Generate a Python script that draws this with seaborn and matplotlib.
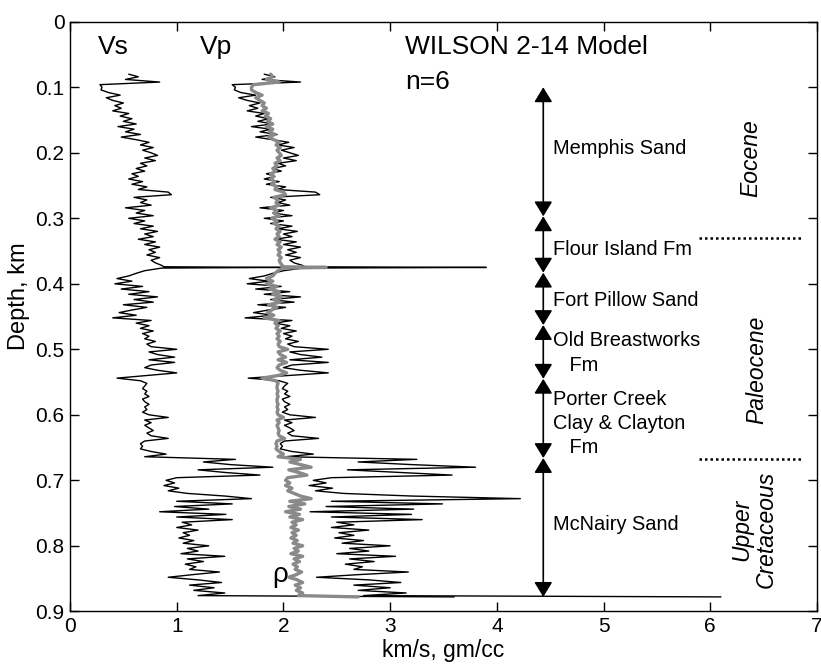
import numpy as np
import pandas as pd
import matplotlib
matplotlib.use("Agg")
import matplotlib.pyplot as plt
import seaborn as sns

# Well-log model: depth samples (km) with shear velocity, compressional velocity and density
depth_km = [
    0.080, 0.084, 0.088, 0.092, 0.096, 0.100, 0.104, 0.108, 0.112, 0.116,
    0.120, 0.124, 0.128, 0.132, 0.136, 0.140, 0.144, 0.148, 0.152, 0.156,
    0.160, 0.164, 0.168, 0.172, 0.176, 0.180, 0.184, 0.188, 0.192, 0.196,
    0.200, 0.204, 0.208, 0.212, 0.216, 0.220, 0.224, 0.228, 0.232, 0.236,
    0.240, 0.244, 0.248, 0.252, 0.256, 0.260, 0.264, 0.268, 0.272, 0.276,
    0.280, 0.284, 0.288, 0.292, 0.296, 0.300, 0.304, 0.308, 0.312, 0.316,
    0.320, 0.324, 0.328, 0.332, 0.336, 0.340, 0.344, 0.348, 0.352, 0.356,
    0.360, 0.364, 0.368, 0.372, 0.374, 0.375, 0.376, 0.380, 0.384, 0.388,
    0.392, 0.396, 0.400, 0.404, 0.408, 0.412, 0.416, 0.420, 0.424, 0.428,
    0.432, 0.436, 0.440, 0.444, 0.448, 0.452, 0.456, 0.460, 0.464, 0.468,
    0.472, 0.476, 0.480, 0.484, 0.488, 0.492, 0.496, 0.500, 0.504, 0.508,
    0.512, 0.516, 0.520, 0.524, 0.528, 0.532, 0.536, 0.540, 0.544, 0.548,
    0.552, 0.556, 0.560, 0.564, 0.568, 0.572, 0.576, 0.580, 0.584, 0.588,
    0.592, 0.596, 0.600, 0.604, 0.608, 0.612, 0.616, 0.620, 0.624, 0.628,
    0.632, 0.636, 0.640, 0.644, 0.648, 0.652, 0.656, 0.660, 0.664, 0.668,
    0.672, 0.676, 0.680, 0.684, 0.688, 0.692, 0.696, 0.700, 0.704, 0.708,
    0.712, 0.716, 0.720, 0.724, 0.728, 0.732, 0.736, 0.740, 0.744, 0.748,
    0.752, 0.756, 0.760, 0.764, 0.768, 0.772, 0.776, 0.780, 0.784, 0.788,
    0.792, 0.796, 0.800, 0.804, 0.808, 0.812, 0.816, 0.820, 0.824, 0.828,
    0.832, 0.836, 0.840, 0.844, 0.848, 0.852, 0.856, 0.860, 0.864, 0.868,
    0.872, 0.876, 0.878,
]

vs_kms = [
    0.55, 0.64, 0.52, 0.84, 0.28, 0.30, 0.29, 0.36, 0.47, 0.34,
    0.40, 0.50, 0.42, 0.48, 0.40, 0.55, 0.47, 0.58, 0.50, 0.62,
    0.45, 0.60, 0.52, 0.66, 0.48, 0.62, 0.74, 0.66, 0.78, 0.68,
    0.76, 0.82, 0.70, 0.80, 0.66, 0.72, 0.62, 0.70, 0.58, 0.64,
    0.55, 0.68, 0.58, 0.72, 0.64, 0.92, 0.95, 0.60, 0.72, 0.66,
    0.76, 0.52, 0.70, 0.62, 0.78, 0.55, 0.70, 0.60, 0.78, 0.66,
    0.82, 0.70, 0.78, 0.64, 0.80, 0.70, 0.84, 0.74, 0.80, 0.72,
    0.84, 0.76, 0.80, 0.86, 0.88, 2.00, 0.86, 0.70, 0.62, 0.55,
    0.44, 0.58, 0.42, 0.68, 0.48, 0.74, 0.55, 0.82, 0.60, 0.78,
    0.50, 0.72, 0.58, 0.46, 0.62, 0.40, 0.76, 0.62, 0.74, 0.66,
    0.78, 0.68, 0.74, 0.70, 0.80, 0.72, 0.76, 1.00, 0.74, 0.82,
    0.98, 0.74, 0.98, 0.76, 0.70, 0.82, 1.00, 0.72, 0.44, 0.66,
    0.72, 0.70, 0.68, 0.72, 0.70, 0.74, 0.68, 0.70, 0.74, 0.70,
    0.72, 0.68, 0.74, 0.92, 0.70, 0.76, 0.70, 0.74, 0.78, 0.72,
    0.76, 0.92, 0.70, 0.66, 0.68, 0.66, 0.76, 0.90, 0.70, 1.55,
    1.25, 1.50, 1.90, 1.20, 1.45, 1.78, 1.00, 0.90, 0.98, 0.88,
    1.02, 0.92, 1.10, 1.45, 1.70, 1.00, 1.52, 0.98, 1.30, 0.84,
    1.46, 1.00, 1.52, 1.05, 1.14, 1.00, 1.20, 1.06, 1.12, 1.02,
    1.16, 1.06, 1.30, 1.10, 1.20, 1.04, 1.45, 1.10, 1.25, 1.08,
    1.18, 1.12, 1.40, 1.15, 0.92, 1.20, 1.42, 1.12, 1.35, 1.16,
    1.45, 1.20, 3.60,
]

vp_kms = [
    1.82, 1.92, 1.80, 2.16, 1.52, 1.55, 1.54, 1.60, 1.74, 1.58,
    1.66, 1.78, 1.68, 1.76, 1.66, 1.82, 1.74, 1.86, 1.76, 1.90,
    1.70, 1.88, 1.78, 1.94, 1.74, 1.90, 2.05, 1.95, 2.10, 1.98,
    2.06, 2.14, 2.00, 2.12, 1.95, 2.02, 1.90, 1.98, 1.84, 1.92,
    1.82, 1.96, 1.84, 2.02, 1.94, 2.30, 2.34, 1.88, 2.02, 1.95,
    2.06, 1.78, 2.00, 1.90, 2.08, 1.82, 2.00, 1.88, 2.08, 1.95,
    2.13, 2.00, 2.08, 1.92, 2.12, 2.00, 2.16, 2.04, 2.12, 2.02,
    2.16, 2.06, 2.10, 2.18, 2.20, 3.90, 2.18, 2.00, 1.90, 1.82,
    1.68, 1.86, 1.66, 1.98, 1.74, 2.06, 1.82, 2.16, 1.88, 2.10,
    1.76, 2.02, 1.86, 1.72, 1.90, 1.64, 2.08, 1.92, 2.06, 1.98,
    2.12, 2.00, 2.08, 2.02, 2.14, 2.04, 2.10, 2.42, 2.06, 2.16,
    2.36, 2.06, 2.42, 2.08, 2.00, 2.16, 2.42, 2.04, 1.67, 1.96,
    2.04, 2.01, 1.99, 2.04, 2.01, 2.06, 1.99, 2.01, 2.06, 2.01,
    2.04, 1.99, 2.06, 2.30, 2.01, 2.08, 2.01, 2.06, 2.10, 2.04,
    2.08, 2.33, 2.01, 1.97, 1.99, 1.97, 2.08, 2.28, 2.02, 3.25,
    2.70, 3.20, 3.80, 2.60, 3.10, 3.58, 2.45, 2.28, 2.40, 2.24,
    2.46, 2.30, 2.56, 3.20, 4.22, 2.45, 3.49, 2.40, 3.22, 2.25,
    3.20, 2.45, 3.30, 2.50, 2.66, 2.45, 2.80, 2.52, 2.66, 2.48,
    2.75, 2.55, 3.00, 2.62, 2.80, 2.50, 3.05, 2.62, 2.85, 2.58,
    2.74, 2.66, 3.17, 2.70, 2.31, 2.80, 3.10, 2.66, 3.00, 2.70,
    3.15, 2.75, 6.10,
]

rho_gcc = [
    1.88, 1.90, 1.84, 1.96, 1.72, 1.70, 1.70, 1.74, 1.80, 1.74,
    1.78, 1.82, 1.80, 1.84, 1.80, 1.86, 1.83, 1.88, 1.85, 1.90,
    1.84, 1.90, 1.87, 1.92, 1.86, 1.91, 1.96, 1.93, 1.97, 1.94,
    1.96, 1.98, 1.94, 1.97, 1.92, 1.94, 1.90, 1.93, 1.88, 1.91,
    1.88, 1.92, 1.89, 1.94, 1.92, 2.00, 2.02, 1.91, 1.95, 1.93,
    1.96, 1.88, 1.94, 1.91, 1.96, 1.89, 1.94, 1.91, 1.96, 1.93,
    1.97, 1.94, 1.96, 1.92, 1.97, 1.94, 1.98, 1.95, 1.97, 1.95,
    1.98, 1.96, 1.97, 1.99, 2.00, 2.40, 1.99, 1.95, 1.92, 1.90,
    1.84, 1.90, 1.84, 1.94, 1.87, 1.96, 1.90, 1.98, 1.91, 1.97,
    1.86, 1.94, 1.89, 1.85, 1.91, 1.82, 1.96, 1.92, 1.95, 1.93,
    1.97, 1.94, 1.96, 1.94, 1.97, 1.95, 1.96, 2.04, 1.95, 1.97,
    2.02, 1.95, 2.03, 1.96, 1.94, 1.97, 2.03, 1.95, 1.80, 1.93,
    1.95, 1.94, 1.94, 1.95, 1.94, 1.95, 1.94, 1.94, 1.95, 1.94,
    1.95, 1.94, 1.95, 2.00, 1.94, 1.96, 1.94, 1.95, 1.96, 1.95,
    1.96, 2.01, 1.94, 1.93, 1.94, 1.93, 1.96, 2.00, 1.95, 2.16,
    2.06, 2.16, 2.26, 2.05, 2.14, 2.22, 2.04, 2.02, 2.06, 2.02,
    2.08, 2.04, 2.10, 2.16, 2.26, 2.06, 2.20, 2.05, 2.16, 2.02,
    2.15, 2.06, 2.18, 2.08, 2.12, 2.07, 2.14, 2.08, 2.12, 2.07,
    2.13, 2.09, 2.18, 2.10, 2.14, 2.07, 2.18, 2.10, 2.15, 2.09,
    2.13, 2.11, 2.17, 2.12, 2.05, 2.13, 2.18, 2.11, 2.16, 2.12,
    2.18, 2.14, 2.70,
]

# Formation boundaries (km) and names
unit_bounds = [0.100, 0.297, 0.383, 0.463, 0.545, 0.666, 0.878]
unit_names = [
    ["Memphis Sand"],
    ["Flour Island Fm"],
    ["Fort Pillow Sand"],
    ["Old Breastworks", "   Fm"],
    ["Porter Creek", "Clay & Clayton", "   Fm"],
    ["McNairy Sand"],
]
unit_label_depth = [0.193, 0.347, 0.426, 0.487, 0.576, 0.768]

# Epoch boundaries and labels
epoch_bounds = [0.330, 0.668]
epoch_names = ["Eocene", "Paleocene", "Upper\nCretaceous"]
epoch_label_depth = [0.208, 0.532, 0.775]

x_ticks = [0, 1, 2, 3, 4, 5, 6, 7]
y_ticks = [0, 0.1, 0.2, 0.3, 0.4, 0.5, 0.6, 0.7, 0.8, 0.9]
y_tick_labels = ["0", "0.1", "0.2", "0.3", "0.4", "0.5", "0.6", "0.7", "0.8", "0.9"]

sns.set_theme(style="ticks")
plt.rcParams["font.family"] = ["Liberation Sans", "DejaVu Sans"]
plt.rcParams["text.color"] = "black"
plt.rcParams["axes.labelcolor"] = "black"

fig = plt.figure(figsize=(8.21, 6.66), dpi=100)
ax = fig.add_axes([0.0853, 0.0821, 0.9098, 0.8852])

logs = pd.DataFrame({"depth": depth_km, "Vs": vs_kms, "Vp": vp_kms, "rho": rho_gcc})

sns.lineplot(data=logs, x="Vs", y="depth", sort=False, estimator=None, orient="y",
             color="black", lw=1.0, ax=ax, zorder=3)
sns.lineplot(data=logs, x="Vp", y="depth", sort=False, estimator=None, orient="y",
             color="black", lw=1.0, ax=ax, zorder=3)
sns.lineplot(data=logs, x="rho", y="depth", sort=False, estimator=None, orient="y",
             color="#8a8a8a", lw=2.4, ax=ax, zorder=4)

ax.set_xlim(0, 7)
ax.set_ylim(0.9, 0)
ax.set_xticks(x_ticks)
ax.set_xticklabels([str(t) for t in x_ticks])
ax.set_yticks(y_ticks)
ax.set_yticklabels(y_tick_labels)
ax.tick_params(direction="in", length=6.5, width=1.0, top=True, right=True,
               labelsize=15, colors="black", labelcolor="black", pad=4)
for s in ax.spines.values():
    s.set_linewidth(1.0)
    s.set_color("black")
ax.set_xlabel("km/s, gm/cc", fontsize=16.5, labelpad=2, color="black")
ax.set_ylabel("Depth, km", fontsize=17, color="black")
ax.yaxis.set_label_coords(-0.053, 0.535)

# Curve and model labels
ax.text(0.26, 0.038, "Vs", fontsize=19, va="center", ha="left", color="black")
ax.text(1.22, 0.038, "Vp", fontsize=19, va="center", ha="left", color="black")
ax.text(3.14, 0.038, "WILSON 2-14 Model", fontsize=19, va="center", ha="left", color="black")
ax.text(3.14, 0.092, "n=6", fontsize=19, va="center", ha="left", color="black")
ax.text(1.97, 0.845, "ρ", fontsize=20, va="center", ha="center", color="black")

# Formation extent arrows
arrow_x = 4.435
for top, bot in zip(unit_bounds[:-1], unit_bounds[1:]):
    ax.annotate("", xy=(arrow_x, top), xytext=(arrow_x, bot),
                arrowprops=dict(arrowstyle="<|-|>,head_length=0.9,head_width=0.55",
                                mutation_scale=10, color="black", lw=1.2,
                                shrinkA=0, shrinkB=0))

line_step = 0.037
for names, d in zip(unit_names, unit_label_depth):
    for k, name in enumerate(names):
        ax.text(4.53, d + k * line_step, name, fontsize=14.4, va="center", ha="left",
                color="black")

# Epoch separators and labels
for d in epoch_bounds:
    ax.plot([5.89, 6.87], [d, d], color="black", lw=1.8, ls=(0, (1, 1.2)),
            dash_capstyle="butt")
ax.text(6.38, epoch_label_depth[0], epoch_names[0], fontsize=16.5, style="italic",
        rotation=90, va="center", ha="center", color="black")
ax.text(6.44, epoch_label_depth[1], epoch_names[1], fontsize=16.5, style="italic",
        rotation=90, va="center", ha="center", color="black")
ax.text(6.41, epoch_label_depth[2], epoch_names[2], fontsize=16.5, style="italic",
        rotation=90, va="center", ha="center", multialignment="center",
        linespacing=1.1, color="black")

fig.savefig("out.png", dpi=100)
